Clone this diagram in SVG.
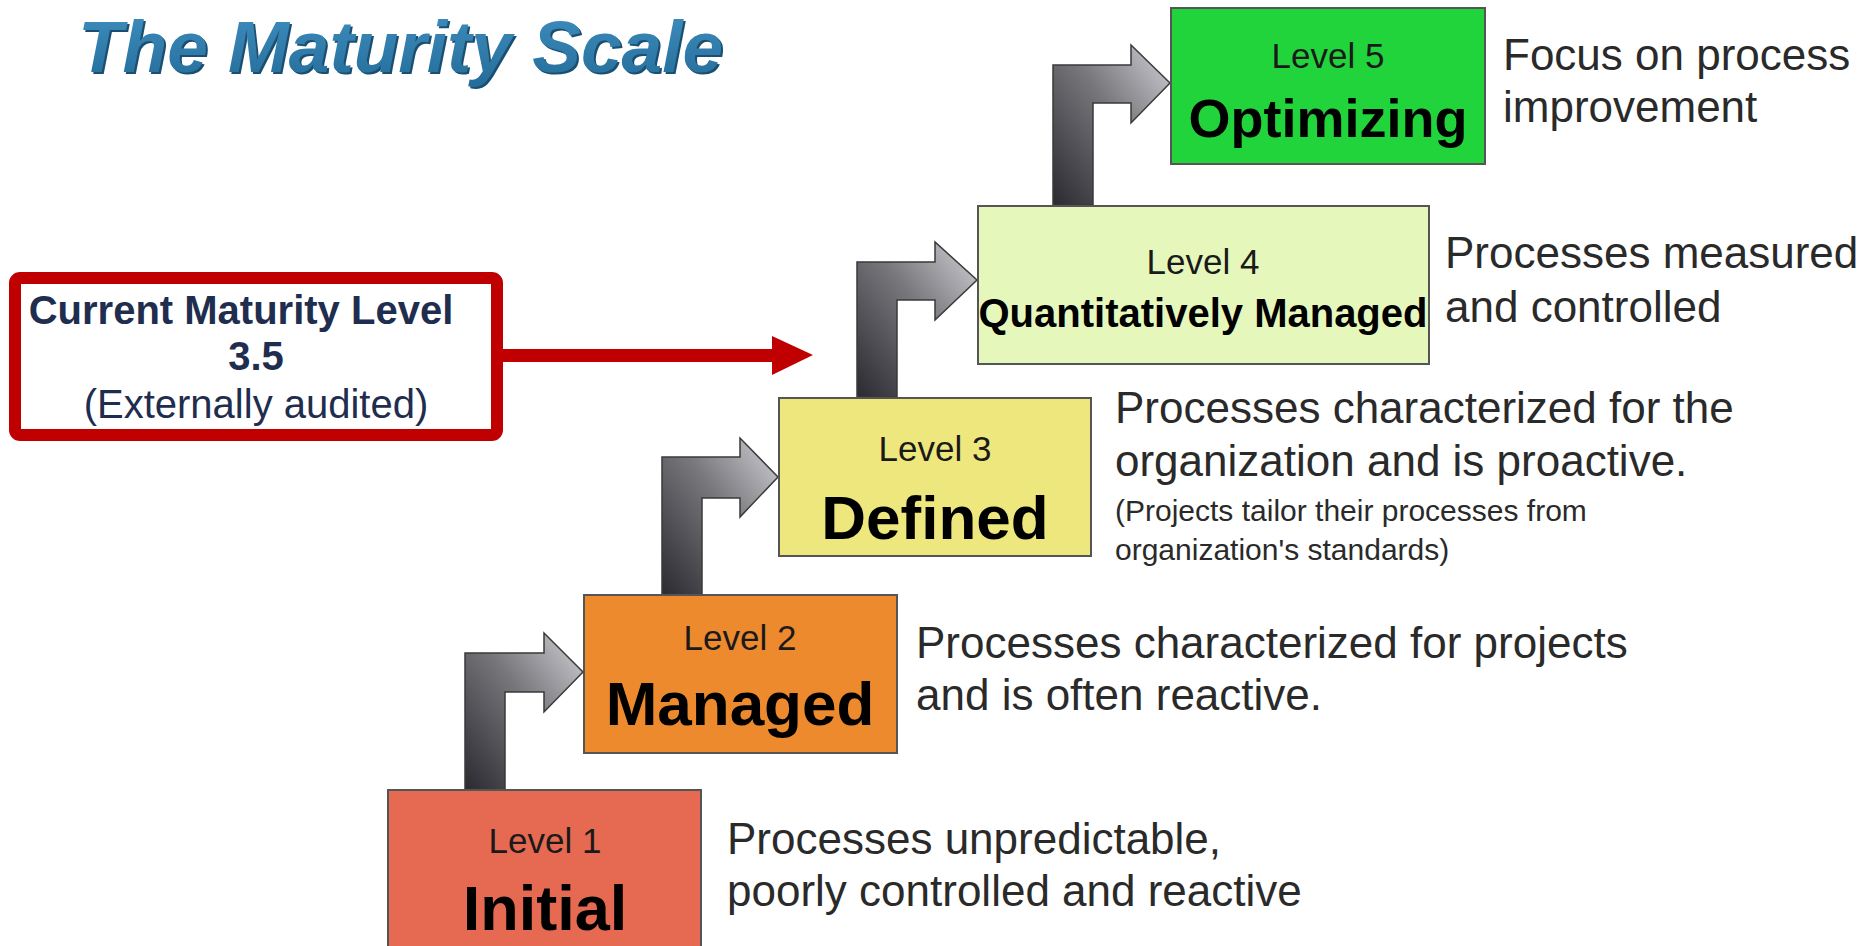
<svg xmlns="http://www.w3.org/2000/svg" width="1870" height="946" viewBox="0 0 1870 946">
<defs>
<linearGradient id="stepGrad" x1="0" y1="1" x2="1" y2="0">
<stop offset="0" stop-color="#2a2a30"/>
<stop offset="0.55" stop-color="#77777c"/>
<stop offset="1" stop-color="#d2d2d8"/>
</linearGradient>
<linearGradient id="titleGrad" x1="0" y1="0" x2="0" y2="1">
<stop offset="0" stop-color="#3f8fc0"/>
<stop offset="1" stop-color="#246c99"/>
</linearGradient>
</defs>
<style>
.box{stroke:#555;stroke-width:2}
.lvl{font-family:"Liberation Sans",Arial,sans-serif;font-size:35px;fill:#1a1a1a;text-anchor:middle}
.name{font-family:"Liberation Sans",Arial,sans-serif;font-weight:bold;fill:#000;text-anchor:middle}
.desc{font-family:"Liberation Sans",Arial,sans-serif;font-size:44px;fill:#2a2a2a}
.small{font-family:"Liberation Sans",Arial,sans-serif;font-size:30px;fill:#2a2a2a}
.step{fill:url(#stepGrad);stroke:#3a3a3a;stroke-width:1.5}
.cur{font-family:"Liberation Sans",Arial,sans-serif;font-size:40px;fill:#1f2d4f;text-anchor:middle}
</style>
<rect width="1870" height="946" fill="#ffffff"/>

<g id="title">
<text x="80" y="74" font-family="Liberation Sans,Arial,sans-serif" font-size="73" font-weight="bold" font-style="italic" fill="#1b4f72">The Maturity Scale</text>
<text x="78" y="72" font-family="Liberation Sans,Arial,sans-serif" font-size="73" font-weight="bold" font-style="italic" fill="url(#titleGrad)">The Maturity Scale</text>
</g>

<g id="connectors">
<path class="step" d="M465,790 L465,653 L544,653 L544,633 L583,672 L544,712 L544,692 L505,692 L505,790 Z"/>
<path class="step" d="M662,595 L662,457 L740,457 L740,438 L778,477 L740,517 L740,498 L702,498 L702,595 Z"/>
<path class="step" d="M857,397 L857,262 L935,262 L935,242 L977,280 L935,320 L935,300 L897,300 L897,397 Z"/>
<path class="step" d="M1053,205 L1053,65 L1131,65 L1131,45 L1170,83 L1131,123 L1131,103 L1093,103 L1093,205 Z"/>
<g id="current-arrow">
<rect x="503" y="349" width="271" height="13" fill="#c00000"/>
<polygon points="772,336 813,355 772,375" fill="#c00000"/>
</g>
</g>

<g id="current-level">
<rect x="15" y="278" width="482" height="157" rx="5" fill="#ffffff" stroke="#c00000" stroke-width="12"/>
<text class="cur" x="241" y="324" font-weight="bold">Current Maturity Level</text>
<text class="cur" x="256" y="370" font-weight="bold">3.5</text>
<text class="cur" x="256" y="418">(Externally audited)</text>
</g>

<g id="level1">
<rect class="box" x="388" y="790" width="313" height="170" fill="#e66a52"/>
<text class="lvl" x="545" y="853">Level 1</text>
<text class="name" x="545" y="930" font-size="63">Initial</text>
<text class="desc" x="727" y="854">Processes unpredictable,</text>
<text class="desc" x="727" y="906">poorly controlled and reactive</text>
</g>

<g id="level2">
<rect class="box" x="584" y="595" width="313" height="158" fill="#ee8a2e"/>
<text class="lvl" x="740" y="650">Level 2</text>
<text class="name" x="740" y="725" font-size="62">Managed</text>
<text class="desc" x="916" y="658">Processes characterized for projects</text>
<text class="desc" x="916" y="710">and is often reactive.</text>
</g>

<g id="level3">
<rect class="box" x="779" y="398" width="312" height="158" fill="#eee77e"/>
<text class="lvl" x="935" y="461">Level 3</text>
<text class="name" x="935" y="539" font-size="62">Defined</text>
<text class="desc" x="1115" y="423">Processes characterized for the</text>
<text class="desc" x="1115" y="476">organization and is proactive.</text>
<text class="small" x="1115" y="521">(Projects tailor their processes from</text>
<text class="small" x="1115" y="560">organization's standards)</text>
</g>

<g id="level4">
<rect class="box" x="978" y="206" width="451" height="158" fill="#e6f7bc"/>
<text class="lvl" x="1203" y="274">Level 4</text>
<text class="name" x="1203" y="327" font-size="40">Quantitatively Managed</text>
<text class="desc" x="1445" y="268">Processes measured</text>
<text class="desc" x="1445" y="322">and controlled</text>
</g>

<g id="level5">
<rect class="box" x="1171" y="8" width="314" height="156" fill="#22d43c"/>
<text class="lvl" x="1328" y="68">Level 5</text>
<text class="name" x="1328" y="137" font-size="54">Optimizing</text>
<text class="desc" x="1503" y="70">Focus on process</text>
<text class="desc" x="1503" y="122">improvement</text>
</g>
</svg>
